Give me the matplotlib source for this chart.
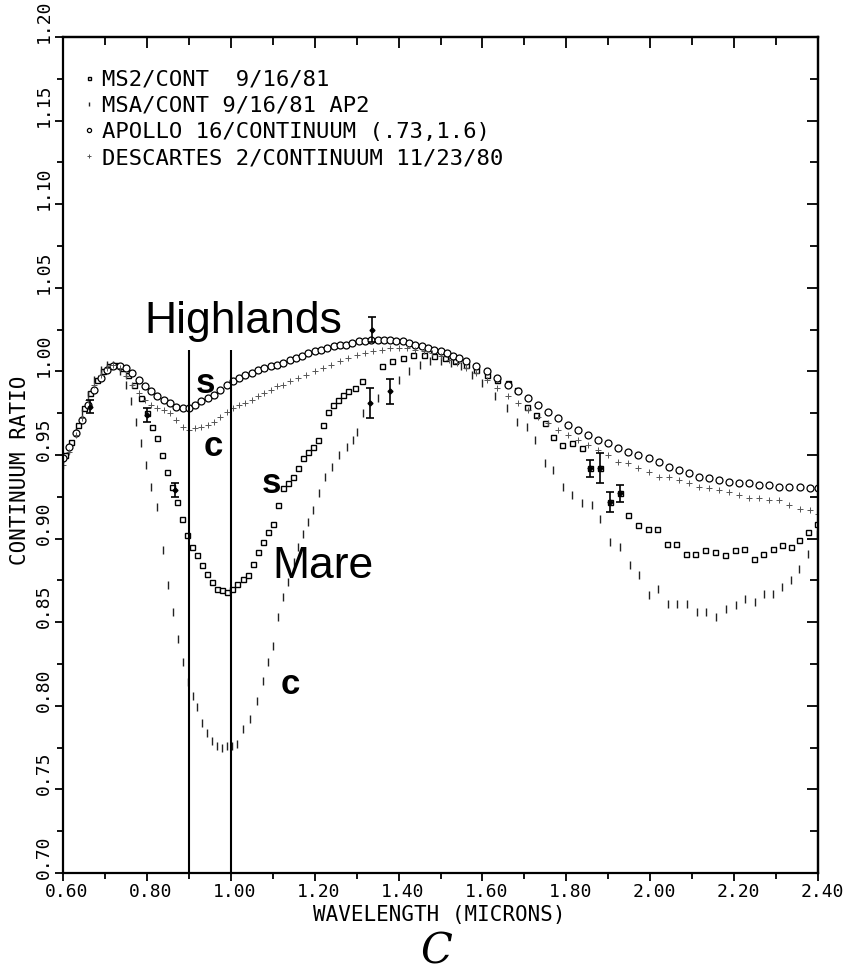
import matplotlib
matplotlib.use("Agg")
import matplotlib.pyplot as plt
from matplotlib.ticker import MultipleLocator
import matplotlib.transforms as mtransforms

# ---- values ----
# APOLLO 16 / continuum (highlands "s", open circles)
ap_x = [0.600, 0.615, 0.630, 0.645, 0.660, 0.675, 0.690, 0.705, 0.720, 0.735,
        0.750, 0.765, 0.780, 0.795, 0.810, 0.825, 0.840, 0.855, 0.870, 0.885,
        0.900, 0.915, 0.930, 0.945, 0.960, 0.975, 0.990, 1.005, 1.020, 1.035,
        1.050, 1.065, 1.080, 1.095, 1.110, 1.125, 1.140, 1.155, 1.170, 1.185,
        1.200, 1.215, 1.230, 1.245, 1.260, 1.275, 1.290, 1.305, 1.320, 1.335,
        1.350, 1.365, 1.380, 1.395, 1.410, 1.425, 1.440, 1.455, 1.470, 1.485,
        1.500, 1.515, 1.530, 1.545, 1.560, 1.585, 1.610, 1.635, 1.660, 1.684,
        1.708, 1.732, 1.756, 1.780, 1.804, 1.828, 1.852, 1.876, 1.900, 1.924,
        1.948, 1.972, 1.996, 2.020, 2.044, 2.068, 2.092, 2.116, 2.140, 2.164,
        2.188, 2.212, 2.236, 2.260, 2.284, 2.308, 2.332, 2.356, 2.380, 2.400]
ap_y = [0.948, 0.955, 0.963, 0.971, 0.980, 0.989, 0.996, 1.001, 1.003, 1.003,
        1.002, 0.999, 0.995, 0.991, 0.988, 0.985, 0.983, 0.981, 0.979, 0.978,
        0.978, 0.980, 0.982, 0.984, 0.986, 0.989, 0.992, 0.994, 0.996, 0.998,
        0.999, 1.001, 1.002, 1.003, 1.004, 1.005, 1.007, 1.008, 1.009, 1.011,
        1.012, 1.013, 1.014, 1.015, 1.016, 1.016, 1.017, 1.018, 1.018, 1.019,
        1.019, 1.019, 1.019, 1.018, 1.018, 1.017, 1.016, 1.015, 1.014, 1.013,
        1.012, 1.011, 1.009, 1.008, 1.006, 1.003, 1.000, 0.996, 0.992, 0.988,
        0.984, 0.980, 0.976, 0.972, 0.968, 0.965, 0.962, 0.959, 0.957, 0.954,
        0.952, 0.950, 0.948, 0.946, 0.943, 0.941, 0.939, 0.937, 0.936, 0.935,
        0.934, 0.933, 0.933, 0.932, 0.932, 0.931, 0.931, 0.931, 0.930, 0.930]

# DESCARTES 2 / continuum (highlands "c")
de_x = [0.600, 0.615, 0.630, 0.645, 0.660, 0.675, 0.690, 0.705, 0.720, 0.735,
        0.750, 0.765, 0.780, 0.795, 0.810, 0.825, 0.840, 0.855, 0.870, 0.885,
        0.900, 0.915, 0.930, 0.945, 0.960, 0.975, 0.990, 1.005, 1.020, 1.035,
        1.050, 1.065, 1.080, 1.095, 1.110, 1.125, 1.140, 1.160, 1.180, 1.200,
        1.220, 1.240, 1.260, 1.280, 1.300, 1.320, 1.340, 1.360, 1.380, 1.400,
        1.420, 1.440, 1.460, 1.480, 1.500, 1.520, 1.540, 1.560, 1.585, 1.610,
        1.635, 1.660, 1.684, 1.708, 1.732, 1.756, 1.780, 1.804, 1.828, 1.852,
        1.876, 1.900, 1.924, 1.948, 1.972, 1.996, 2.020, 2.044, 2.068, 2.092,
        2.116, 2.140, 2.164, 2.188, 2.212, 2.236, 2.260, 2.284, 2.308, 2.332,
        2.356, 2.380, 2.400]
de_y = [0.944, 0.952, 0.962, 0.972, 0.983, 0.992, 0.998, 1.002, 1.004, 1.002,
        0.997, 0.992, 0.987, 0.983, 0.980, 0.978, 0.977, 0.975, 0.971, 0.967,
        0.965, 0.966, 0.967, 0.968, 0.970, 0.973, 0.976, 0.978, 0.980, 0.981,
        0.983, 0.985, 0.987, 0.989, 0.991, 0.992, 0.994, 0.996, 0.998, 1.000,
        1.002, 1.004, 1.006, 1.008, 1.010, 1.011, 1.012, 1.013, 1.014, 1.014,
        1.014, 1.013, 1.012, 1.011, 1.009, 1.007, 1.005, 1.002, 0.999, 0.995,
        0.990, 0.985, 0.981, 0.977, 0.973, 0.969, 0.965, 0.962, 0.959, 0.956,
        0.953, 0.950, 0.946, 0.945, 0.942, 0.940, 0.937, 0.937, 0.935, 0.933,
        0.931, 0.930, 0.929, 0.928, 0.926, 0.924, 0.924, 0.923, 0.923, 0.920,
        0.918, 0.917, 0.915]

# MS2 / CONT 9/16/81 (mare "s")
ms2_x = [0.605, 0.620, 0.635, 0.650, 0.665, 0.680, 0.695, 0.710, 0.725, 0.740,
         0.755, 0.770, 0.785, 0.800, 0.812, 0.824, 0.836, 0.848, 0.860, 0.872,
         0.884, 0.896, 0.908, 0.920, 0.932, 0.944, 0.956, 0.968, 0.980, 0.992,
         1.004, 1.016, 1.028, 1.040, 1.052, 1.064, 1.076, 1.088, 1.100, 1.112,
         1.124, 1.136, 1.148, 1.160, 1.172, 1.184, 1.196, 1.208, 1.220, 1.232,
         1.244, 1.256, 1.268, 1.280, 1.296, 1.312, 1.360, 1.385, 1.410, 1.435,
         1.460, 1.485, 1.510, 1.535, 1.560, 1.585, 1.610, 1.635, 1.660, 1.682,
         1.706, 1.728, 1.749, 1.768, 1.790, 1.814, 1.837, 1.857, 1.880, 1.904,
         1.928, 1.947, 1.971, 1.995, 2.016, 2.040, 2.062, 2.085, 2.107, 2.131,
         2.155, 2.178, 2.202, 2.224, 2.248, 2.269, 2.293, 2.314, 2.336, 2.355,
         2.376, 2.398]
ms2_y = [0.950, 0.958, 0.968, 0.978, 0.987, 0.995, 1.000, 1.003, 1.004, 1.002,
         0.998, 0.992, 0.984, 0.975, 0.967, 0.960, 0.950, 0.940, 0.931, 0.922,
         0.912, 0.902, 0.895, 0.890, 0.884, 0.879, 0.874, 0.870, 0.869, 0.868,
         0.870, 0.873, 0.876, 0.878, 0.885, 0.892, 0.898, 0.904, 0.909, 0.920,
         0.930, 0.933, 0.937, 0.942, 0.948, 0.952, 0.955, 0.959, 0.968, 0.976,
         0.980, 0.983, 0.986, 0.988, 0.990, 0.994, 1.003, 1.006, 1.008, 1.010,
         1.010, 1.009, 1.008, 1.006, 1.004, 1.001, 0.998, 0.995, 0.993, 0.989,
         0.979, 0.974, 0.969, 0.961, 0.956, 0.957, 0.954, 0.942, 0.942, 0.922,
         0.927, 0.914, 0.908, 0.906, 0.906, 0.897, 0.897, 0.891, 0.891, 0.893,
         0.892, 0.890, 0.893, 0.894, 0.888, 0.891, 0.894, 0.896, 0.895, 0.899,
         0.904, 0.909]

# MSA / CONT 9/16/81 AP2 (mare "c")
msa_x = [0.600, 0.615, 0.630, 0.645, 0.660, 0.675, 0.690, 0.705, 0.720, 0.735,
         0.750, 0.762, 0.774, 0.786, 0.798, 0.810, 0.824, 0.839, 0.851, 0.862,
         0.874, 0.886, 0.898, 0.910, 0.920, 0.931, 0.943, 0.955, 0.967, 0.979,
         0.991, 1.003, 1.015, 1.029, 1.046, 1.063, 1.077, 1.089, 1.101, 1.113,
         1.125, 1.136, 1.150, 1.161, 1.172, 1.184, 1.196, 1.210, 1.225, 1.241,
         1.259, 1.277, 1.291, 1.301, 1.315, 1.350, 1.400, 1.425, 1.450,
         1.475, 1.500, 1.525, 1.550, 1.575, 1.600, 1.630, 1.659, 1.682, 1.706,
         1.725, 1.749, 1.768, 1.792, 1.814, 1.837, 1.861, 1.880, 1.904, 1.928,
         1.952, 1.973, 1.997, 2.019, 2.042, 2.064, 2.088, 2.111, 2.133, 2.157,
         2.181, 2.205, 2.226, 2.250, 2.271, 2.293, 2.314, 2.336, 2.355, 2.376,
         2.398]
msa_y = [0.944, 0.953, 0.964, 0.975, 0.986, 0.995, 1.001, 1.004, 1.004, 1.000,
         0.992, 0.982, 0.970, 0.957, 0.944, 0.931, 0.919, 0.893, 0.872, 0.856,
         0.840, 0.826, 0.814, 0.806, 0.799, 0.790, 0.784, 0.779, 0.776, 0.775,
         0.776, 0.776, 0.777, 0.786, 0.792, 0.803, 0.815, 0.826, 0.836, 0.853,
         0.865, 0.874, 0.886, 0.895, 0.903, 0.910, 0.917, 0.927, 0.937, 0.943,
         0.950, 0.955, 0.959, 0.964, 0.975, 0.984, 0.995, 1.000, 1.004,
         1.006, 1.006, 1.005, 1.003, 0.998, 0.993, 0.985, 0.978, 0.970, 0.967,
         0.959, 0.945, 0.941, 0.931, 0.926, 0.921, 0.920, 0.912, 0.898, 0.895,
         0.884, 0.878, 0.866, 0.870, 0.861, 0.861, 0.861, 0.856, 0.856, 0.853,
         0.858, 0.860, 0.864, 0.862, 0.867, 0.867, 0.871, 0.875, 0.882, 0.891,
         0.903]

# points drawn with large error bars
err_x = [0.665, 0.800, 0.867, 1.332, 1.337, 1.380, 1.857, 1.880, 1.904, 1.928]
err_y = [0.979, 0.974, 0.929, 0.981, 1.025, 0.988, 0.942, 0.942, 0.922, 0.927]
err_e = [0.004, 0.004, 0.004, 0.009, 0.0075, 0.0075, 0.005, 0.009, 0.006, 0.005]

labels = ["MS2/CONT  9/16/81",
          "MSA/CONT 9/16/81 AP2",
          "APOLLO 16/CONTINUUM (.73,1.6)",
          "DESCARTES 2/CONTINUUM 11/23/80"]

band_lines = [0.90, 1.00]

mono = "DejaVu Sans Mono"
sans = "Liberation Sans"

fig = plt.figure(figsize=(8.49, 9.76), dpi=100)
ax = fig.add_axes([63 / 849, 1 - 873 / 976, (818 - 63) / 849, (873 - 37) / 976])

h_ms2, = ax.plot(ms2_x, ms2_y, "s", ms=3.6, mfc="white", mec="black", mew=1.0)
h_msa, = ax.plot(msa_x, msa_y, ls="none", marker="|", ms=6, color="#222222", mew=1.0)
h_ap, = ax.plot(ap_x, ap_y, "o", ms=5, mfc="white", mec="black", mew=0.9)
h_de, = ax.plot(de_x, de_y, "+", ms=4.5, color="#555555", mew=0.7)
ax.errorbar(err_x, err_y, yerr=err_e, fmt="D", ms=2.5, color="black",
            capsize=3, elinewidth=1.2, capthick=1.2)

ax.vlines(band_lines, 0.70, 1.013, color="black", lw=1.5)

ax.set_xlim(0.60, 2.40)
ax.set_ylim(0.70, 1.20)

leg = ax.legend([h_ms2, h_msa, h_ap, h_de], labels, loc="upper left",
                bbox_to_anchor=(0.0, 0.985), frameon=False, markerscale=0.6,
                handlelength=0.5, handletextpad=0.35, labelspacing=0.28,
                prop={"family": mono, "size": 16})

# annotations
ax.text(1.03, 1.023, "Highlands", family=sans, fontsize=32, ha="center", va="baseline")
ax.text(1.098, 0.8764, "Mare", family=sans, fontsize=32, ha="left", va="baseline")
ax.text(0.939, 0.993, "s", family=sans, fontsize=25, weight="bold", ha="center", va="center")
ax.text(0.958, 0.955, "c", family=sans, fontsize=25, weight="bold", ha="center", va="center")
ax.text(1.096, 0.933, "s", family=sans, fontsize=25, weight="bold", ha="center", va="center")
ax.text(1.141, 0.8125, "c", family=sans, fontsize=25, weight="bold", ha="center", va="center")

# ticks: bottom/left point outward, top/right point inward
ax.xaxis.set_major_locator(MultipleLocator(0.20))
ax.xaxis.set_minor_locator(MultipleLocator(0.10))
ax.yaxis.set_major_locator(MultipleLocator(0.05))
ax.yaxis.set_minor_locator(MultipleLocator(0.025))
ax.tick_params(which="both", direction="out", width=1.3, top=False, right=False)
ax.tick_params(which="major", length=6)
ax.tick_params(which="minor", length=4)
ax.tick_params(axis="x", pad=1)
ax.tick_params(axis="y", pad=1)
ax.xaxis.set_major_formatter(lambda v, p: f"{v:.2f}")
ax.yaxis.set_major_formatter(lambda v, p: f"{v:.2f}")

for lab in ax.get_xticklabels():
    lab.set_family(mono)
    lab.set_fontsize(13)
    lab.set_transform(lab.get_transform() + mtransforms.ScaledTranslation(4 / 100, 0, fig.dpi_scale_trans))
for lab in ax.get_yticklabels():
    lab.set_family(mono)
    lab.set_fontsize(13)
    lab.set_rotation(90)
    lab.set_va("bottom")
    lab.set_transform(lab.get_transform() + mtransforms.ScaledTranslation(0, -6 / 100, fig.dpi_scale_trans))

top = ax.secondary_xaxis("top")
top.xaxis.set_major_locator(MultipleLocator(0.20))
top.xaxis.set_minor_locator(MultipleLocator(0.10))
top.tick_params(which="both", direction="in", width=1.3, labeltop=False)
top.tick_params(which="major", length=8)
top.tick_params(which="minor", length=6)
right = ax.secondary_yaxis("right")
right.yaxis.set_major_locator(MultipleLocator(0.05))
right.yaxis.set_minor_locator(MultipleLocator(0.025))
right.tick_params(which="both", direction="in", width=1.3, labelright=False)
right.tick_params(which="major", length=8)
right.tick_params(which="minor", length=6)

for sp in ax.spines.values():
    sp.set_linewidth(1.6)
top.spines["top"].set_linewidth(1.6)
right.spines["right"].set_linewidth(1.6)

fig.text(20 / 849, 1 - 470 / 976, "CONTINUUM RATIO", family=mono, fontsize=15,
         rotation=90, ha="center", va="center")
fig.text(439 / 849, 1 - 915 / 976, "WAVELENGTH (MICRONS)", family=mono, fontsize=15,
         ha="center", va="center")
fig.text(436 / 849, 1 - 952 / 976, "C", family="DejaVu Serif", style="italic",
         fontsize=30, ha="center", va="center")

fig.savefig("out.png", dpi=100, facecolor="white")
